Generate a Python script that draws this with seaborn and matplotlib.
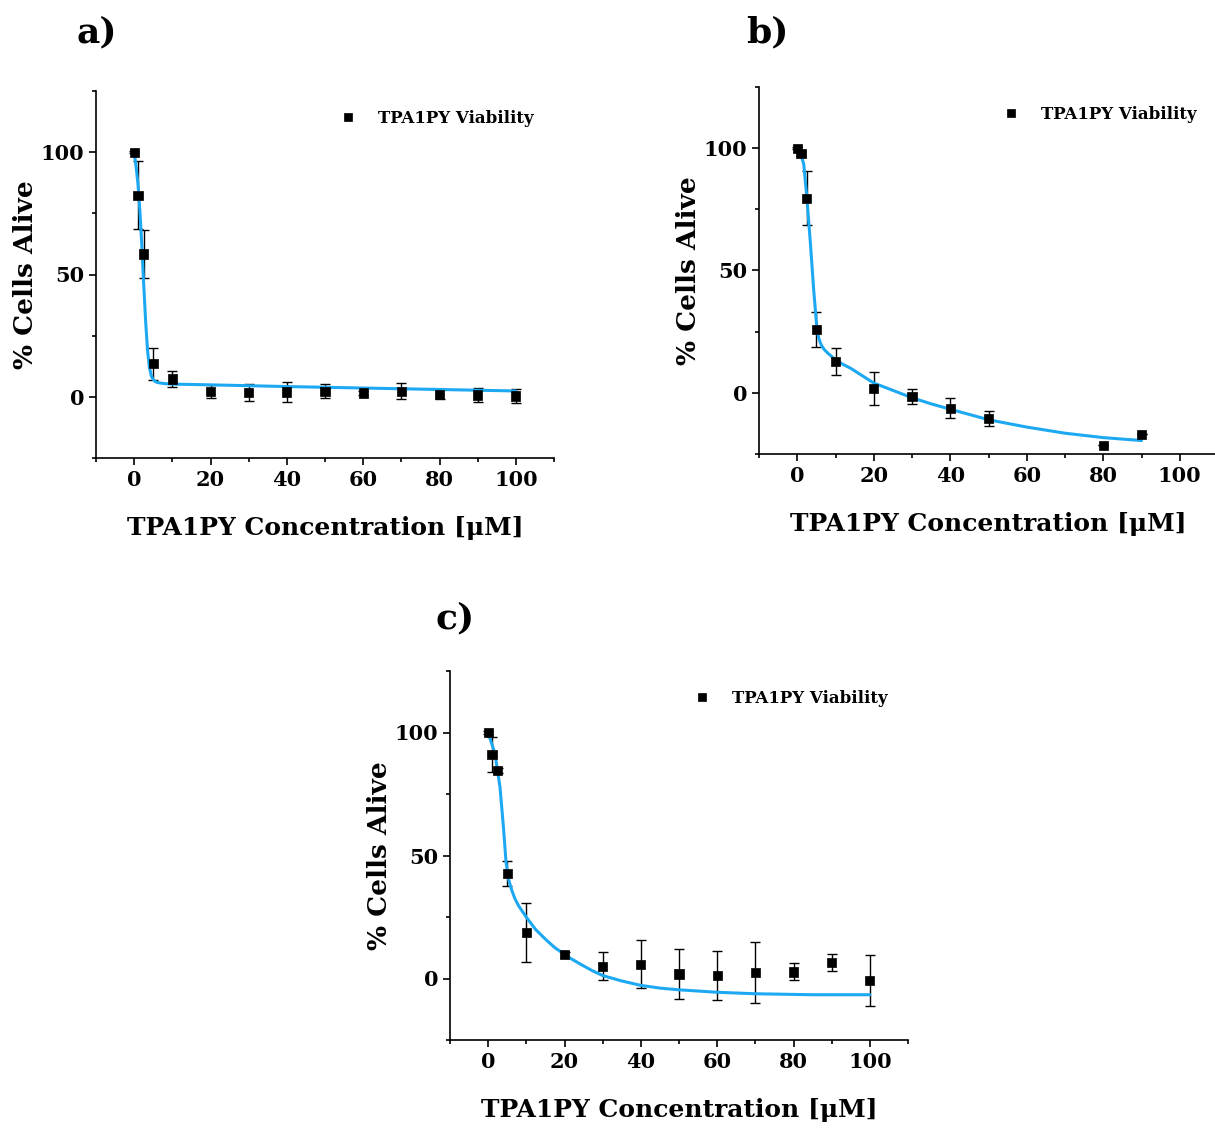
import numpy as np
import pandas as pd
import matplotlib
matplotlib.use("Agg")
import matplotlib.pyplot as plt
import seaborn as sns
from matplotlib.ticker import MultipleLocator

# datos
conc_a = [0, 1, 2.5, 5, 10, 20, 30, 40, 50, 60, 70, 80, 90, 100]
alive_a = [100, 82.4, 58.4, 13.5, 7.3, 2.2, 1.8, 2.0, 2.3, 1.6, 2.3, 0.9, 0.7, 0.4]
err_a = [0.5, 14.0, 9.9, 6.5, 3.4, 2.5, 3.5, 4.1, 2.8, 0.8, 3.3, 1.7, 2.8, 2.9]
fit_x_a = [0, 0.5, 1, 1.5, 2, 2.5, 3, 3.5, 4, 4.5, 5, 5.5, 6, 7, 8, 10, 20, 40, 60, 80, 100]
fit_y_a = [100, 94, 87, 76, 62, 46, 31, 19, 12, 8.5, 7.0, 6.3, 5.9, 5.6, 5.4, 5.2, 4.9, 4.2, 3.6, 3.0, 2.4]

conc_b = [0, 1, 2.5, 5, 10, 20, 30, 40, 50, 80, 90]
alive_b = [100, 97.8, 79.5, 26.0, 12.8, 1.8, -1.4, -6.3, -10.5, -21.5, -17.0]
err_b = [0.5, 0.8, 11.0, 7.2, 5.4, 6.7, 3.1, 4.1, 2.9, 0.0, 0.0]
fit_x_b = [0, 1, 1.7, 2.5, 3.4, 4.3, 5.1, 5.6, 6.2, 7, 8, 10, 12, 14, 17, 20, 25, 30, 35, 40,
           50, 60, 70, 80, 90]
fit_y_b = [100, 97, 93.5, 80, 62, 42, 27, 22.5, 19.8, 17.8, 16.2, 13.5, 11.6, 10, 7, 4, 1,
           -2, -4.5, -6.7, -11, -14, -16.5, -18.3, -19.5]

conc_c = [0, 1, 2.5, 5, 10, 20, 30, 40, 50, 60, 70, 80, 90, 100]
alive_c = [100, 91.0, 84.6, 42.8, 18.6, 9.8, 5.0, 5.8, 1.8, 1.1, 2.4, 2.7, 6.4, -0.7]
err_c = [0.5, 7.0, 1.0, 5.1, 12.0, 1.0, 5.8, 9.7, 10.0, 10.0, 12.5, 3.4, 3.5, 10.3]
fit_x_c = [0, 1.8, 3.1, 4, 4.7, 5.4, 6.2, 7, 8, 10, 12.5, 15.4, 17.5, 21, 24, 27, 30, 35, 40,
           45, 50, 60, 70, 85, 100]
fit_y_c = [100, 91.3, 77.8, 61.5, 47, 40, 35.8, 32.5, 29.5, 24.9, 19.8, 15.4, 12.5, 8.7, 6,
           3.4, 1.2, -1.0, -2.8, -3.9, -4.6, -5.6, -6.2, -6.6, -6.6]

x_label = "TPA1PY Concentration [μM]"
y_label = "% Cells Alive"
legend_label = "TPA1PY Viability"
curve_color = "#1DA9F2"

sns.set_style("ticks")
plt.rcParams["font.family"] = ["DejaVu Serif", "DejaVu Sans"]
plt.rcParams["font.weight"] = "bold"
plt.rcParams["axes.labelweight"] = "bold"
plt.rcParams["text.color"] = "black"
plt.rcParams["axes.labelcolor"] = "black"
plt.rcParams["axes.edgecolor"] = "black"
plt.rcParams["xtick.color"] = "black"
plt.rcParams["ytick.color"] = "black"

W, H = 1215, 1129
fig = plt.figure(figsize=(W / 100, H / 100), dpi=100)


def make_axes(left, top, right, bottom):
    return fig.add_axes([left / W, 1 - bottom / H, (right - left) / W, (bottom - top) / H])


def draw_panel(ax, conc, alive, err, fit_x, fit_y, leg_anchor):
    ax.errorbar(conc, alive, yerr=err, fmt="none", ecolor="black", elinewidth=1.0,
                capsize=3.5, capthick=1.0, zorder=2)
    fit_df = pd.DataFrame({"x": fit_x, "y": fit_y})
    sns.lineplot(data=fit_df, x="x", y="y", color=curve_color, linewidth=2.2, ax=ax,
                 zorder=3, legend=False)
    pts = pd.DataFrame({"x": conc, "y": alive, "s": legend_label})
    sns.scatterplot(data=pts, x="x", y="y", hue="s", palette=["black"], marker="s",
                    s=45, edgecolor="black", linewidth=0.5, ax=ax, zorder=4)
    ax.set_xlim(-10, 110)
    ax.set_ylim(-25, 125)
    ax.xaxis.set_major_locator(MultipleLocator(20))
    ax.xaxis.set_minor_locator(MultipleLocator(10))
    ax.yaxis.set_major_locator(MultipleLocator(50))
    ax.yaxis.set_minor_locator(MultipleLocator(25))
    ax.tick_params(which="major", direction="out", length=5, width=1.2, labelsize=15)
    ax.tick_params(which="minor", direction="out", length=3, width=1.2)
    for lab in ax.get_xticklabels() + ax.get_yticklabels():
        lab.set_fontweight("bold")
    ax.set_xlabel(x_label, fontsize=18, fontweight="bold", labelpad=19)
    ax.set_ylabel(y_label, fontsize=19, fontweight="bold", labelpad=2)
    sns.despine(ax=ax)
    for s in ["left", "bottom"]:
        ax.spines[s].set_linewidth(1.2)
    ax.legend(loc="upper left", bbox_to_anchor=leg_anchor, frameon=False,
              handletextpad=0.8, markerscale=0.85, prop={"weight": "bold", "size": 12})


ax_a = make_axes(96, 91, 554, 458)
draw_panel(ax_a, conc_a, alive_a, err_a, fit_x_a, fit_y_a, (0.48, 0.99))
ax_b = make_axes(759, 87, 1218, 454)
draw_panel(ax_b, conc_b, alive_b, err_b, fit_x_b, fit_y_b, (0.48, 0.99))
ax_c = make_axes(450, 671, 908, 1040)
draw_panel(ax_c, conc_c, alive_c, err_c, fit_x_c, fit_y_c, (0.48, 0.99))

fig.text(97 / W, 1 - 32 / H, "a)", fontsize=26, fontweight="bold", ha="center", va="center")
fig.text(767 / W, 1 - 32 / H, "b)", fontsize=26, fontweight="bold", ha="center", va="center")
fig.text(455 / W, 1 - 618 / H, "c)", fontsize=26, fontweight="bold", ha="center", va="center")

fig.savefig("out.png", dpi=100)
